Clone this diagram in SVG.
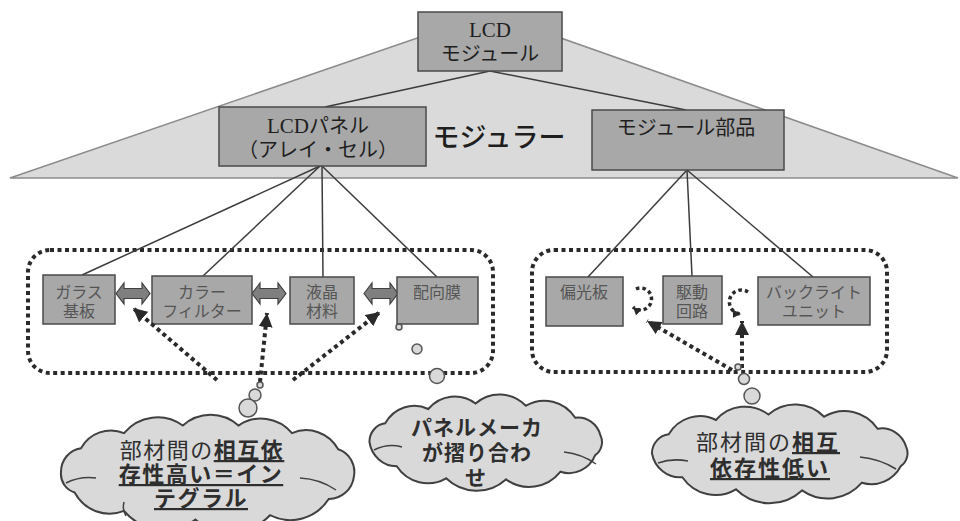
<svg xmlns="http://www.w3.org/2000/svg" width="960" height="521" viewBox="0 0 960 521">
<defs>
<style>
.box{fill:#a8a8a8;stroke:#4a4a4a;stroke-width:1.5}
.top{font-family:"Noto Sans CJK JP","Liberation Sans",sans-serif;font-size:20px;fill:#1e1e1e;text-anchor:middle}
.ser{font-family:"Liberation Serif","Noto Sans CJK JP",serif}
.lbl{font-family:"Noto Sans CJK JP","Liberation Sans",sans-serif;font-size:16px;fill:#555555;text-anchor:middle}
.con{stroke:#3c3c3c;stroke-width:1.5;fill:none}
.dotbox{fill:none;stroke:#2a2a2a;stroke-width:4;stroke-dasharray:4 3.5}
.dotarr{fill:none;stroke:#2a2a2a;stroke-width:4;stroke-dasharray:4 3.5;marker-end:url(#ah)}
.loop{fill:none;stroke:#2a2a2a;stroke-width:3.5;stroke-dasharray:3.5 3;marker-end:url(#ahs)}
.blk{fill:#7f7f7f;stroke:#404040;stroke-width:1.2}
.cloud{fill:#d9d9d9;stroke:#404040;stroke-width:2;vector-effect:non-scaling-stroke}
.curl{fill:none;stroke:#404040;stroke-width:1.5}
.bub{fill:#d9d9d9;stroke:#555;stroke-width:1.5}
.ctx{font-family:"Noto Sans CJK JP","Liberation Sans",sans-serif;fill:#2e2e2e;text-anchor:middle}
.b{font-weight:bold;text-decoration:underline}
</style>
<marker id="ah" markerUnits="userSpaceOnUse" markerWidth="15" markerHeight="15" refX="14" refY="7" orient="auto">
<path d="M0,0 L14,7 L0,14 Z" fill="#2a2a2a"/>
</marker>
<marker id="ahs" markerUnits="userSpaceOnUse" markerWidth="9" markerHeight="9" refX="8" refY="4" orient="auto">
<path d="M0,0 L8,4 L0,8 Z" fill="#2a2a2a"/>
</marker>
<path id="dbl" d="M0,10.5 L8,0 L8,5.5 L26,5.5 L26,0 L34,10.5 L26,21 L26,15.5 L8,15.5 L8,21 Z"/>
</defs>

<rect width="960" height="521" fill="#ffffff"/>

<!-- background triangle -->
<polygon points="10,178 490,13 958,178" fill="#dadada" stroke="#8c8c8c" stroke-width="1.5"/>
<text x="499" y="147" font-family="Noto Sans CJK JP, Liberation Sans, sans-serif" font-size="27" font-weight="500" fill="#1e1e1e" text-anchor="middle">モジュラー</text>

<!-- dotted group outlines -->
<rect class="dotbox" x="28" y="250" width="465" height="123" rx="22"/>
<rect class="dotbox" x="532" y="250" width="355" height="122" rx="22"/>

<g id="connectors">
<line class="con" x1="490" y1="71" x2="325" y2="107"/>
<line class="con" x1="490" y1="71" x2="686" y2="110"/>
<line class="con" x1="320" y1="166" x2="82" y2="275"/>
<line class="con" x1="320" y1="166" x2="203" y2="276"/>
<line class="con" x1="322" y1="166" x2="323" y2="277"/>
<line class="con" x1="322" y1="166" x2="437" y2="277"/>
<line class="con" x1="687" y1="170" x2="588" y2="277"/>
<line class="con" x1="687" y1="170" x2="692" y2="276"/>
<line class="con" x1="687" y1="170" x2="813" y2="277"/>
<use href="#dbl" class="blk" x="116" y="283"/>
<use href="#dbl" class="blk" x="252" y="283"/>
<use href="#dbl" class="blk" x="364" y="283"/>
<path class="loop" d="M636,289 A11,11 0 1,1 633,307"/>
<path class="loop" d="M748,292 A12,12 0 1,0 741,314"/>
</g>

<g id="n-lcdmodule">
<rect class="box" x="418" y="12" width="144" height="59"/>
<text class="top" x="490" y="37"><tspan class="ser" font-size="21">LCD</tspan><tspan x="490" dy="24">モジュール</tspan></text>
</g>
<g id="n-panel">
<rect class="box" x="219" y="107" width="207" height="59"/>
<text class="top" x="318" y="133"><tspan class="ser" font-size="21">LCD</tspan>パネル<tspan x="318" dy="24">（アレイ・セル）</tspan></text>
</g>
<g id="n-parts">
<rect class="box" x="592" y="110" width="192" height="60"/>
<text class="top" x="686" y="135">モジュール部品</text>
</g>

<g id="n-glass">
<rect class="box" x="43" y="275" width="72" height="49"/>
<text class="lbl" x="79" y="298">ガラス<tspan x="79" dy="19">基板</tspan></text>
</g>
<g id="n-cf">
<rect class="box" x="152" y="276" width="100" height="48"/>
<text class="lbl" x="202" y="298">カラー<tspan x="202" dy="19">フィルター</tspan></text>
</g>
<g id="n-lc">
<rect class="box" x="290" y="277" width="64" height="47"/>
<text class="lbl" x="322" y="298">液晶<tspan x="322" dy="19">材料</tspan></text>
</g>
<g id="n-align">
<rect class="box" x="397" y="277" width="81" height="47"/>
<text class="lbl" x="437" y="298">配向膜</text>
</g>
<g id="n-pol">
<rect class="box" x="546" y="277" width="77" height="49"/>
<text class="lbl" x="584" y="298">偏光板</text>
</g>
<g id="n-drive">
<rect class="box" x="663" y="276" width="59" height="48"/>
<text class="lbl" x="692" y="298">駆動<tspan x="692" dy="19">回路</tspan></text>
</g>
<g id="n-bl">
<rect class="box" x="758" y="277" width="112" height="48"/>
<text class="lbl" x="814" y="298">バックライト<tspan x="814" dy="19">ユニット</tspan></text>
</g>

<g id="dotted-arrows">
<line class="dotarr" x1="217" y1="380" x2="133" y2="308"/>
<line class="dotarr" x1="260" y1="382" x2="267" y2="313"/>
<line class="dotarr" x1="293" y1="380" x2="380" y2="312"/>
<line class="dotarr" x1="732" y1="370" x2="647" y2="321"/>
<line class="dotarr" x1="742" y1="368" x2="742" y2="321"/>
</g>

<g id="cloud1">
<circle class="bub" cx="260" cy="385" r="3"/>
<circle class="bub" cx="255" cy="395" r="6"/>
<circle class="bub" cx="248" cy="408" r="9"/>
<path class="cloud" transform="translate(208,472) scale(1.05,1.08) translate(-208,-472)" d="M68,472 A22,22 0 0,1 87,450 A33,33 0 0,1 128,436 A42,42 0 0,1 184,429 A40,40 0 0,1 237,429 A39,39 0 0,1 288,436 A35,35 0 0,1 332,451 A22,22 0 0,1 347,476 A24,24 0 0,1 323,497 A44,44 0 0,1 267,512 A53,53 0 0,1 196,516 A51,51 0 0,1 128,508 A38,38 0 0,1 81,491 A18,18 0 0,1 68,472 Z"/>
<path class="curl" d="M66,483 Q80,476 96,478 M300,478 Q320,479 336,490 M124,502 Q122,510 126,516"/>
<text class="ctx" font-size="22" letter-spacing="1.5" x="202" y="458"><tspan>部材間の</tspan><tspan class="b">相互依</tspan><tspan class="b" x="201" dy="24">存性高い＝イン</tspan><tspan class="b" x="201" dy="24">テグラル</tspan></text>
</g>

<g id="cloud2">
<circle class="bub" cx="399" cy="327" r="3"/>
<circle class="bub" cx="417" cy="349" r="5"/>
<circle class="bub" cx="437" cy="376" r="7.5"/>
<path class="cloud" transform="translate(486,442) scale(1.05,1.1) translate(-486,-442)" d="M375,442 A17,17 0 0,1 390,425 A32,32 0 0,1 431,412 A34,34 0 0,1 476,407 A36,36 0 0,1 524,409 A36,36 0 0,1 571,420 A22,22 0 0,1 595,436 A14,14 0 0,1 590,454 A27,27 0 0,1 557,469 A39,39 0 0,1 505,476 A43,43 0 0,1 448,475 A36,36 0 0,1 401,464 A26,26 0 0,1 375,442 Z"/>
<path class="curl" d="M374,450 Q388,443 402,447 M564,452 Q582,454 596,464"/>
<text class="ctx" font-size="21" font-weight="bold" letter-spacing="1" x="477" y="435">パネルメーカ<tspan x="477" dy="25">が摺り合わ</tspan><tspan x="476" dy="25">せ</tspan></text>
</g>

<g id="cloud3">
<circle class="bub" cx="738" cy="367" r="3"/>
<circle class="bub" cx="744" cy="379" r="5.5"/>
<circle class="bub" cx="752" cy="396" r="8"/>
<path class="cloud" transform="translate(780,453) scale(1.05,1.1) translate(-780,-453)" d="M658,453 A18,18 0 0,1 674,436 A35,35 0 0,1 719,423 A38,38 0 0,1 769,418 A40,40 0 0,1 822,420 A39,39 0 0,1 873,431 A24,24 0 0,1 900,447 A14,14 0 0,1 895,465 A32,32 0 0,1 858,480 A44,44 0 0,1 801,487 A47,47 0 0,1 738,486 A39,39 0 0,1 687,475 A27,27 0 0,1 658,453 Z"/>
<path class="curl" d="M658,463 Q672,458 688,461 M860,457 Q880,459 896,469"/>
<text class="ctx" font-size="22" letter-spacing="2" x="768" y="450"><tspan>部材間の</tspan><tspan class="b">相互</tspan><tspan class="b" x="770" dy="26">依存性低い</tspan></text>
</g>
</svg>
